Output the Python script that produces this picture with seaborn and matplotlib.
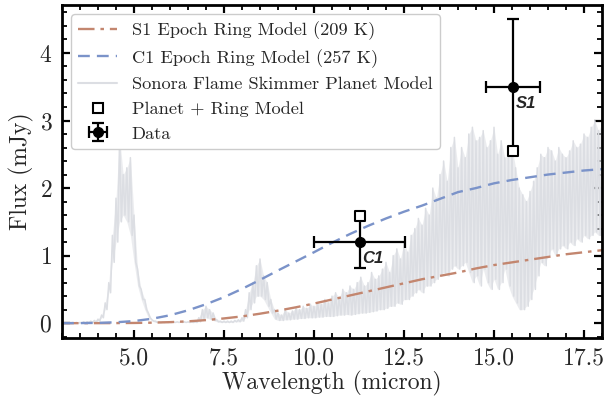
import numpy as np
import pandas as pd
import matplotlib
matplotlib.use("Agg")
import matplotlib.pyplot as plt
from matplotlib.lines import Line2D
import seaborn as sns

# Blackbody ring models sampled every 0.5 micron
model_wave = [3.0, 3.5, 4.0, 4.5, 5.0, 5.5, 6.0, 6.5, 7.0, 7.5, 8.0, 8.5, 9.0, 9.5,
              10.0, 10.5, 11.0, 11.5, 12.0, 12.5, 13.0, 13.5, 14.0, 14.5, 15.0,
              15.5, 16.0, 16.5, 17.0, 17.5, 18.0]
s1_ring = [0.0, 0.0, 0.0, 0.001, 0.003, 0.007, 0.015, 0.027, 0.045, 0.07, 0.1,
           0.14, 0.185, 0.235, 0.29, 0.35, 0.41, 0.47, 0.53, 0.59, 0.65, 0.7,
           0.75, 0.81, 0.86, 0.9, 0.94, 0.98, 1.02, 1.05, 1.08]
c1_ring = [0.0, 0.001, 0.004, 0.013, 0.031, 0.065, 0.117, 0.19, 0.28, 0.385,
           0.507, 0.64, 0.78, 0.915, 1.05, 1.19, 1.32, 1.44, 1.55, 1.65, 1.74,
           1.84, 1.94, 2.0, 2.07, 2.12, 2.16, 2.2, 2.23, 2.26, 2.28]

# Sonora Flame Skimmer spectrum: local maxima / minima per 0.1 micron bin (3.0-18.0)
spec_peak = [0.01, 0.01, 0.01, 0.01, 0.01, 0.01, 0.02, 0.02, 0.03, 0.04,
             0.06, 0.12, 0.3, 0.6, 1.3, 1.85, 2.75, 2.2, 2.3, 2.45,
             1.6, 0.8, 0.5, 0.35, 0.15, 0.05, 0.03, 0.02, 0.02, 0.02,
             0.02, 0.02, 0.02, 0.02, 0.02, 0.02, 0.02, 0.02, 0.08, 0.2,
             0.25, 0.2, 0.15, 0.05, 0.03, 0.03, 0.03, 0.03, 0.04, 0.05,
             0.08, 0.2, 0.45, 0.6, 0.85, 0.95, 0.7, 0.6, 0.35, 0.2,
             0.15, 0.12, 0.2, 0.15, 0.18, 0.22, 0.2, 0.25, 0.22, 0.28,
             0.25, 0.3, 0.28, 0.35, 0.3, 0.4, 0.45, 0.38, 0.5, 0.45,
             0.55, 0.5, 0.6, 0.68, 0.55, 0.6, 0.75, 0.65, 0.7, 0.8,
             0.9, 0.75, 1.0, 1.1, 0.95, 1.2, 1.05, 1.3, 1.4, 1.55,
             1.45, 1.7, 1.6, 2.0, 1.85, 2.2, 2.4, 2.1, 2.6, 2.75,
             2.3, 2.6, 2.45, 2.8, 2.9, 2.7, 2.75, 2.85, 2.6, 2.7,
             2.9, 2.5, 2.7, 2.45, 2.5, 2.6, 2.3, 2.0, 1.9, 1.8,
             1.95, 2.1, 2.3, 2.5, 2.45, 2.6, 2.55, 2.4, 2.6, 2.5,
             2.45, 2.55, 2.7, 2.6, 2.65, 2.8, 2.75, 2.9, 3.0, 2.85, 2.95]
spec_trough = [0.0, 0.0, 0.0, 0.0, 0.0, 0.0, 0.0, 0.01, 0.01, 0.01,
               0.03, 0.08, 0.2, 0.45, 0.9, 1.2, 1.5, 1.6, 1.5, 1.3,
               0.9, 0.55, 0.35, 0.2, 0.08, 0.03, 0.01, 0.01, 0.01, 0.01,
               0.01, 0.01, 0.01, 0.01, 0.01, 0.01, 0.01, 0.01, 0.02, 0.05,
               0.08, 0.06, 0.04, 0.02, 0.01, 0.01, 0.01, 0.01, 0.02, 0.02,
               0.03, 0.08, 0.2, 0.3, 0.4, 0.4, 0.35, 0.25, 0.15, 0.06,
               0.04, 0.04, 0.05, 0.05, 0.06, 0.06, 0.07, 0.07, 0.08, 0.08,
               0.08, 0.09, 0.09, 0.1, 0.1, 0.1, 0.11, 0.12, 0.12, 0.13,
               0.12, 0.13, 0.14, 0.15, 0.15, 0.16, 0.17, 0.18, 0.2, 0.2,
               0.22, 0.25, 0.25, 0.3, 0.28, 0.35, 0.35, 0.4, 0.45, 0.5,
               0.45, 0.55, 0.55, 0.6, 0.65, 0.7, 0.75, 0.7, 0.8, 0.85,
               0.8, 0.85, 0.9, 0.75, 0.6, 0.7, 0.55, 0.8, 0.6, 0.5,
               0.65, 0.5, 0.6, 0.8, 0.55, 0.4, 0.3, 0.2, 0.2, 0.25,
               0.35, 0.5, 0.7, 0.9, 0.85, 1.0, 1.1, 1.0, 1.1, 1.15,
               1.1, 1.2, 1.15, 1.25, 1.2, 1.3, 1.25, 1.3, 1.35, 1.3, 1.3]

# Photometry
epochs = ["C1", "S1"]
data_wave = [11.27, 15.53]
data_wave_err = [1.27, 0.75]
data_flux = [1.2, 3.5]
data_flux_err = [0.39, 1.0]
model_flux = [1.58, 2.55]

sns.set_theme(style="ticks")
plt.rcParams.update({
    "font.family": ["cmr10", "DejaVu Serif"],
    "mathtext.fontset": "cm",
    "axes.formatter.use_mathtext": True,
    "axes.unicode_minus": False,
})

fig = plt.figure(figsize=(6.06, 4.07), dpi=100)
ax = fig.add_axes([0.1023, 0.1695, 0.8911, 0.8182])

# Spectrum as an alternating max/min trace over a light band
bins = np.arange(len(spec_peak)) * 0.1 + 3.0
spec_x = np.empty(2 * len(bins))
spec_y = np.empty(2 * len(bins))
spec_x[0::2] = bins
spec_x[1::2] = bins + 0.05
spec_y[0::2] = spec_peak
spec_y[1::2] = spec_trough
spec_df = pd.DataFrame({"wave": spec_x, "flux": spec_y})

spec_color = "#dcdee3"
red = "#c3866f"
blue = "#7b93c9"

ax.fill_between(bins, spec_trough, spec_peak, color=spec_color, lw=0,
                alpha=0.55, zorder=1)
sns.lineplot(data=spec_df, x="wave", y="flux", ax=ax, color=spec_color,
             lw=1.1, sort=False, estimator=None, zorder=1)

model_df = pd.DataFrame({"wave": model_wave, "s1": s1_ring, "c1": c1_ring})
sns.lineplot(data=model_df, x="wave", y="s1", ax=ax, color=red, lw=1.7,
             estimator=None, zorder=2)
ax.lines[-1].set_dashes([7, 2.5, 1.5, 2.5])
sns.lineplot(data=model_df, x="wave", y="c1", ax=ax, color=blue, lw=1.7,
             estimator=None, zorder=2)
ax.lines[-1].set_dashes([5, 3])

pt_df = pd.DataFrame({"wave": data_wave, "flux": data_flux, "model": model_flux})
sns.scatterplot(data=pt_df, x="wave", y="model", ax=ax, marker="s", s=55,
                facecolor="white", edgecolor="black", linewidth=1.5, zorder=5)
eb = ax.errorbar(data_wave, data_flux, xerr=data_wave_err, yerr=data_flux_err,
                 fmt="o", color="black", ms=7, elinewidth=1.6, capsize=4,
                 capthick=1.6, zorder=4)

for name, xw, yf in zip(epochs, data_wave, data_flux):
    ax.text(xw + 0.08, yf - 0.25, name, fontsize=12, fontweight="bold",
            fontstyle="italic", family=["Liberation Sans", "DejaVu Sans"],
            ha="left", va="center", zorder=6)

ax.set_xlim(3.0, 18.0)
ax.set_ylim(-0.22, 4.71)
ax.set_xticks([5.0, 7.5, 10.0, 12.5, 15.0, 17.5])
ax.set_xticklabels(["5.0", "7.5", "10.0", "12.5", "15.0", "17.5"])
ax.set_yticks([0, 1, 2, 3, 4])
ax.xaxis.set_minor_locator(matplotlib.ticker.MultipleLocator(0.5))
ax.yaxis.set_minor_locator(matplotlib.ticker.MultipleLocator(0.2))
ax.tick_params(which="both", direction="in", top=True, right=True,
               labelsize=17, color="black")
ax.tick_params(which="major", length=6, width=1.6, pad=7)
ax.tick_params(which="minor", length=3.5, width=1.3)
for sp in ax.spines.values():
    sp.set_linewidth(2.0)
    sp.set_color("black")

ax.set_xlabel("Wavelength (micron)", fontsize=17, labelpad=1)
ax.set_ylabel("Flux (mJy)", fontsize=17, labelpad=4)

h_s1 = Line2D([], [], color=red, lw=1.7, dashes=[7, 2.5, 1.5, 2.5])
h_c1 = Line2D([], [], color=blue, lw=1.7, dashes=[5, 3])
h_sp = Line2D([], [], color=spec_color, lw=1.5)
h_pm = Line2D([], [], ls="none", marker="s", ms=7, mfc="white", mec="black",
              mew=1.5)
ax.legend([h_s1, h_c1, h_sp, h_pm, eb],
          ["S1 Epoch Ring Model (209 K)", "C1 Epoch Ring Model (257 K)",
           "Sonora Flame Skimmer Planet Model", "Planet + Ring Model", "Data"],
          loc="upper left", fontsize=13.2, frameon=True, fancybox=True,
          edgecolor="#cccccc", framealpha=1.0, labelspacing=0.48,
          handlelength=2.1, borderaxespad=0.5)

fig.savefig("out.png", dpi=100)
